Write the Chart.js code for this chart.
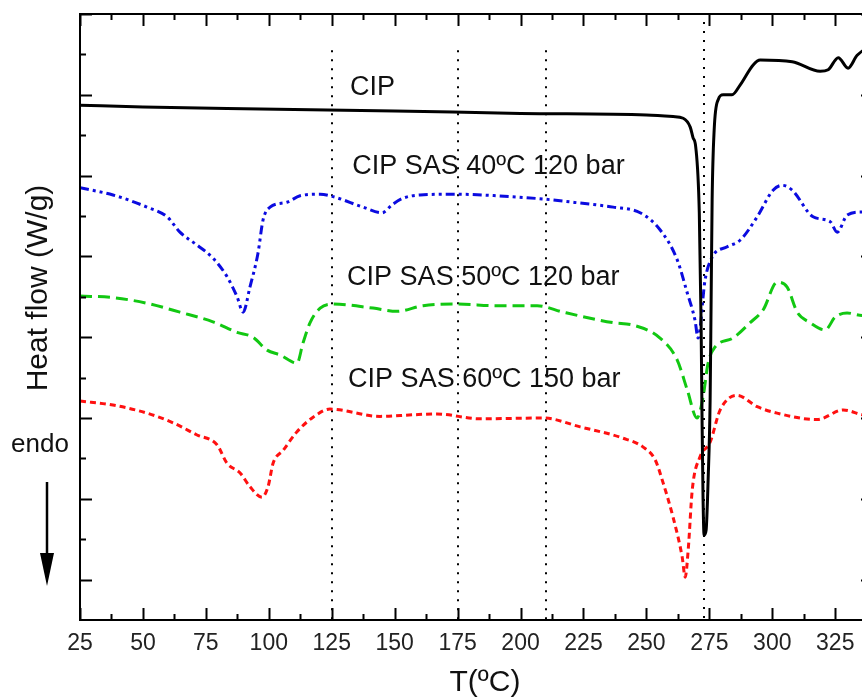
<!DOCTYPE html>
<html>
<head>
<meta charset="utf-8">
<title>DSC</title>
<script src="https://cdn.jsdelivr.net/npm/chart.js@4.4.1/dist/chart.umd.min.js"></script>
<style>
  html, body { margin: 0; padding: 0; background: #fff; overflow: hidden; }
  #wrap { width: 862px; height: 697px; overflow: hidden; }
</style>
</head>
<body>
<div id="wrap"><canvas id="dsc" width="880" height="697"></canvas></div>
<script>
// DSC traces: temperature (ºC) and heat flow (W/g, stacked offsets)
var cipT = [25, 50, 83.4, 150, 200, 250, 260.6, 264.6, 267.4, 268.5, 269.6, 271.0, 271.7, 272.1, 272.5, 272.9, 273.7, 274.5, 275.3, 275.7, 276.1, 276.9, 278.5, 280.5, 284.0, 287.2, 292.4, 295.2, 307.9, 319.0, 322.2, 326.2, 330.1, 333.7, 340];
var cipHF = [6.37, 6.35, 6.33, 6.30, 6.27, 6.25, 6.23, 6.21, 6.10, 5.97, 5.85, 5.04, 3.71, 2.48, 1.49, 1.05, 1.11, 1.73, 2.72, 3.96, 5.20, 6.06, 6.44, 6.50, 6.50, 6.62, 6.87, 6.93, 6.91, 6.79, 6.81, 6.96, 6.83, 6.99, 7.12];

var sas40T = [25, 38.1, 51.6, 59.6, 64.7, 71.5, 77.8, 83.4, 87.4, 89.8, 92.5, 95.7, 97.7, 100.5, 107.2, 112.4, 120.4, 125.5, 137.4, 145.0, 149.0, 153.3, 160.1, 174.8, 190.7, 209.0, 223.7, 236.8, 247.5, 255.4, 262.2, 266.2, 269.3, 270.5, 273.3, 276.1, 282.1, 287.2, 294.0, 300.3, 303.9, 307.9, 316.2, 323.0, 325.8, 329.7, 335.7, 340];
var sas40HF = [5.35, 5.26, 5.11, 4.99, 4.80, 4.64, 4.48, 4.25, 4.00, 3.81, 4.12, 4.54, 4.95, 5.11, 5.17, 5.25, 5.27, 5.24, 5.11, 5.04, 5.14, 5.22, 5.26, 5.27, 5.25, 5.21, 5.16, 5.11, 5.04, 4.83, 4.46, 4.05, 3.71, 3.49, 4.21, 4.49, 4.62, 4.70, 4.99, 5.32, 5.38, 5.32, 4.99, 4.93, 4.80, 5.01, 5.05, 5.05];

var sas50T = [25, 38.1, 51.6, 64.7, 77.8, 87.4, 93.7, 99.3, 104.5, 111.2, 113.6, 116.4, 120.4, 125.5, 141.4, 150.9, 161.3, 174.8, 190.7, 206.6, 216.9, 236.8, 244.7, 255.4, 262.2, 266.2, 270.1, 272.5, 274.5, 277.3, 284.4, 291.2, 296.4, 301.9, 305.9, 309.9, 315.0, 321.0, 325.0, 329.7, 335.7, 340];
var sas50HF = [4.01, 3.99, 3.92, 3.81, 3.69, 3.56, 3.50, 3.34, 3.28, 3.18, 3.43, 3.68, 3.86, 3.91, 3.86, 3.82, 3.89, 3.91, 3.89, 3.89, 3.81, 3.68, 3.65, 3.49, 3.22, 2.85, 2.50, 2.76, 3.18, 3.38, 3.49, 3.68, 3.84, 4.18, 4.12, 3.81, 3.68, 3.59, 3.75, 3.80, 3.77, 3.79];

var sas60T = [25, 38.1, 51.6, 62.0, 71.5, 79.4, 83.4, 88.6, 92.5, 97.3, 99.7, 101.7, 105.7, 111.2, 117.6, 124.3, 144.2, 157.3, 166.8, 183.9, 209.0, 223.7, 240.7, 248.7, 253.5, 256.6, 260.6, 264.2, 265.4, 266.6, 268.2, 271.3, 275.3, 279.3, 286.0, 294.0, 301.9, 317.8, 328.2, 335.7, 340];
var sas60HF = [2.71, 2.66, 2.56, 2.44, 2.29, 2.17, 1.94, 1.82, 1.65, 1.52, 1.65, 1.94, 2.10, 2.33, 2.51, 2.61, 2.52, 2.54, 2.55, 2.49, 2.50, 2.39, 2.25, 2.14, 1.98, 1.70, 1.27, 0.78, 0.53, 0.87, 1.61, 2.02, 2.20, 2.60, 2.78, 2.64, 2.56, 2.48, 2.60, 2.54, 2.52];

var xTicks = [25, 50, 75, 100, 125, 150, 175, 200, 225, 250, 275, 300, 325];
var markerT = [125, 175, 210, 273];

var FONT = '"Liberation Sans", Arial, sans-serif';

function pts(xs, ys) {
    return xs.map(function(x, i) { return { x: x, y: ys[i] }; });
}

// curve captions, placed in data coordinates (left edge, baseline)
var captions = [
    { text: 'CIP', x: 132.3, y: 6.50 },
    { text: 'CIP SAS 40ºC 120 bar', x: 133.1, y: 5.52 },
    { text: 'CIP SAS 50ºC 120 bar', x: 131.1, y: 4.15 },
    { text: 'CIP SAS 60ºC 150 bar', x: 131.5, y: 2.88 }
];

var decor = {
    id: 'decor',
    beforeDatasetsDraw: function(chart) {
        var ctx = chart.ctx, xs = chart.scales.x, ys = chart.scales.y, a = chart.chartArea;
        ctx.save();
        ctx.strokeStyle = '#000';
        ctx.lineWidth = 2;
        ctx.setLineDash([2, 7]);
        markerT.forEach(function(t, i) {
            var px = Math.round(xs.getPixelForValue(t));
            var top = ys.getPixelForValue(i === 3 ? 7.4 : 7.05);
            ctx.beginPath();
            ctx.moveTo(px, top);
            ctx.lineTo(px, a.bottom);
            ctx.stroke();
        });
        ctx.restore();
    },
    afterDraw: function(chart) {
        var ctx = chart.ctx, xs = chart.scales.x, ys = chart.scales.y, a = chart.chartArea;
        ctx.save();
        ctx.strokeStyle = '#000';
        ctx.lineWidth = 2;
        ctx.strokeRect(a.left, a.top, a.right - a.left, a.bottom - a.top);

        // inward ticks on all four sides
        ctx.beginPath();
        for (var t = 25; t < 340; t += 12.5) {
            var px = Math.round(xs.getPixelForValue(t)) + 0.5;
            var len = ((t - 25) % 25 === 0) ? 12 : 6;
            ctx.moveTo(px, a.bottom); ctx.lineTo(px, a.bottom - len);
            ctx.moveTo(px, a.top); ctx.lineTo(px, a.top + len);
        }
        for (var v = 0.5; v <= 7.5; v += 0.5) {
            var py = Math.round(ys.getPixelForValue(v)) + 0.5;
            var l2 = (v % 1 === 0.5) ? 12 : 6;
            ctx.moveTo(a.left, py); ctx.lineTo(a.left + l2, py);
            ctx.moveTo(a.right, py); ctx.lineTo(a.right - l2, py);
        }
        ctx.stroke();

        ctx.fillStyle = '#111';
        ctx.font = '27px ' + FONT;
        ctx.textBaseline = 'alphabetic';
        ctx.textAlign = 'left';
        captions.forEach(function(c) {
            ctx.fillText(c.text, xs.getPixelForValue(c.x), ys.getPixelForValue(c.y));
        });

        // axis titles
        ctx.font = '30px ' + FONT;
        ctx.textAlign = 'center';
        ctx.textBaseline = 'middle';
        ctx.fillText('T(ºC)', 485, 683);
        ctx.save();
        ctx.translate(39, 288);
        ctx.rotate(-Math.PI / 2);
        ctx.fillText('Heat flow (W/g)', 0, 0);
        ctx.restore();

        ctx.font = '26px ' + FONT;
        ctx.textBaseline = 'alphabetic';
        ctx.fillText('endo', 40, 452);

        // endothermic direction arrow
        ctx.lineWidth = 2.5;
        ctx.beginPath();
        ctx.moveTo(47, 482); ctx.lineTo(47, 560);
        ctx.stroke();
        ctx.fillStyle = '#000';
        ctx.beginPath();
        ctx.moveTo(40, 553); ctx.lineTo(54, 553); ctx.lineTo(47, 586);
        ctx.closePath();
        ctx.fill();
        ctx.restore();
    }
};

function series(label, xs, ys, color, dash) {
    return {
        label: label,
        data: pts(xs, ys),
        borderColor: color,
        borderWidth: 3,
        borderDash: dash,
        pointRadius: 0,
        fill: false,
        cubicInterpolationMode: 'monotone'
    };
}

new Chart(document.getElementById('dsc'), {
    type: 'line',
    data: {
        datasets: [
            series('CIP', cipT, cipHF, '#000000', []),
            series('CIP SAS 40ºC 120 bar', sas40T, sas40HF, '#0b0be0', [9, 4, 3, 4, 3, 4]),
            series('CIP SAS 50ºC 120 bar', sas50T, sas50HF, '#12c812', [12, 6]),
            series('CIP SAS 60ºC 150 bar', sas60T, sas60HF, '#ff1010', [6, 4])
        ]
    },
    options: {
        responsive: false,
        animation: false,
        devicePixelRatio: 1,
        layout: { padding: { top: 14, right: 7, left: 0, bottom: 0 } },
        plugins: { legend: { display: false }, tooltip: { enabled: false } },
        scales: {
            x: {
                type: 'linear',
                min: 25,
                max: 340,
                grid: { display: false, drawTicks: false },
                border: { display: false },
                ticks: { color: '#222', font: { family: FONT, size: 23 }, padding: 10, maxRotation: 0 },
                afterBuildTicks: function(s) { s.ticks = xTicks.map(function(v) { return { value: v }; }); },
                afterFit: function(s) { s.height = 77; }
            },
            y: {
                min: 0,
                max: 7.5,
                grid: { display: false, drawTicks: false },
                border: { display: false },
                ticks: { display: false },
                afterFit: function(s) { s.width = 80; }
            }
        }
    },
    plugins: [decor]
});
</script>
</body>
</html>
